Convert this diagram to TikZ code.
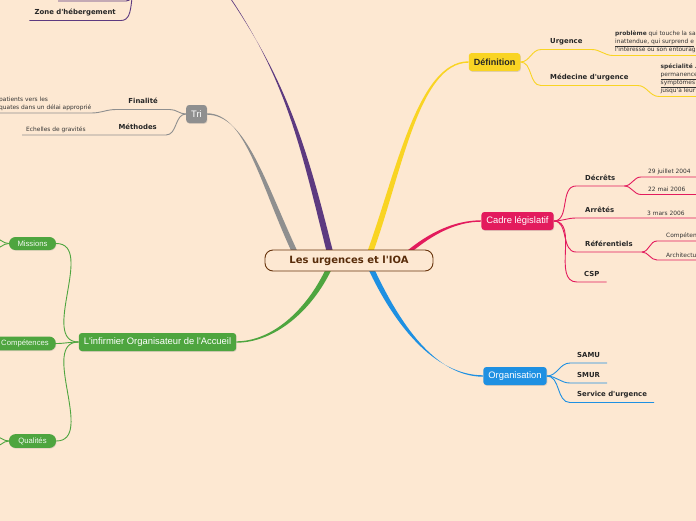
\documentclass[tikz,border=0pt]{standalone}
\usepackage{fontspec}
\setmainfont{DejaVu Sans}
\newfontfamily\topicfont{Liberation Sans}
\usetikzlibrary{calc,shadows,backgrounds}

\definecolor{bgpeach}{RGB}{253,232,210}
\definecolor{rootbrown}{RGB}{104,52,12}
\definecolor{mmpurple}{RGB}{93,58,128}
\definecolor{mmgray}{RGB}{143,143,143}
\definecolor{mmyellow}{RGB}{249,212,35}
\definecolor{mmpink}{RGB}{227,27,93}
\definecolor{mmblue}{RGB}{30,144,226}
\definecolor{mmgreen}{RGB}{78,165,63}

\newcommand{\apos}{\textquotesingle}

\tikzset{
    root/.style = {
        draw=rootbrown,
        line width=0.9pt,
        fill=bgpeach,
        rounded corners=8pt,
        minimum width=168pt,
        minimum height=21pt,
        text=rootbrown!85!black,
        font=\bfseries\fontsize{10}{12}\selectfont,
        },
    topic/.style = {
        rounded corners=3pt,
        minimum height=18pt,
        inner xsep=5pt,
        text=white,
        font=\topicfont\fontsize{9.4}{11}\selectfont,
        drop shadow={opacity=0.25, shadow xshift=0.6pt, shadow yshift=-0.8pt},
        },
    pill/.style = {
        fill=mmgreen,
        rounded corners=6.5pt,
        minimum height=13pt,
        minimum width=47pt,
        inner xsep=7pt,
        text=white!92!mmgreen,
        font=\topicfont\fontsize{7.7}{9}\selectfont,
        drop shadow={opacity=0.25, shadow xshift=0.5pt, shadow yshift=-0.7pt},
        },
    sub/.style = {
        font=\bfseries\fontsize{6.9}{8}\selectfont,
        text=black!85,
        inner xsep=9pt,
        inner ysep=4pt,
        text height=5pt,
        text depth=1.5pt,
        },
    leaf/.style = {
        font=\fontsize{5.9}{8}\selectfont,
        text=black!80,
        inner xsep=0pt,
        inner ysep=2.5pt,
        },
    twig/.style = {
        line width=0.9pt,
        },
}

% colour, from, to, out, in, out looseness, in looseness, half width
\newcommand{\branch}[8]{%
    \fill[#1] ($(#2)+(-#8,0)$) to[out=#4,in=#5,out looseness=#6,in looseness=#7] ($(#3)+(0,0.7)$)
        -- ($(#3)+(0,-0.7)$) to[out=#5,in=#4,out looseness=#7,in looseness=#6] ($(#2)+(#8,0)$) -- cycle;
}

\begin{document}
\begin{tikzpicture}[x=1pt,y=1pt]
    \useasboundingbox (0,0) rectangle (696,-520);
    \clip (0,0) rectangle (696,-520);

    % main topics
    \node[root] (root) at (349,-260.5) {Les urgences et l\apos IOA};
    \node[topic, fill=mmgray] (tri) at (196.5,-114) {Tri};
    \node[topic, fill=mmyellow, text=black!85, font=\topicfont\bfseries\fontsize{9}{11}\selectfont] (def) at (494.5,-62) {Définition};
    \node[topic, fill=mmpink] (cadre) at (517.5,-221) {Cadre législatif};
    \node[topic, fill=mmblue] (org) at (515,-376) {Organisation};
    \node[topic, fill=mmgreen] (ioa) at (157.5,-342) {L\apos infirmier Organisateur de l\apos Accueil};

    \node[pill] (missions) at (32.5,-243.5) {Missions};
    \node[pill] (competences) at (25,-343.5) {Compétences};
    \node[pill] (qualites) at (32.5,-441) {Qualités};

    % sub topics
    \node[sub, anchor=south west] (urgence) at (541,-49.5) {Urgence};
    \node[sub, anchor=south west] (medecine) at (541,-85.5) {Médecine d\apos urgence};
    \node[sub, anchor=south west] (decrets) at (576,-186) {Décrêts};
    \node[sub, anchor=south west] (arretes) at (576,-218) {Arrêtés};
    \node[sub, anchor=south west] (referentiels) at (576,-252) {Référentiels};
    \node[sub, anchor=south west, inner xsep=7pt] (csp) at (577,-282) {CSP};
    \node[sub, anchor=south west, inner xsep=7pt] (samu) at (570,-363) {SAMU};
    \node[sub, anchor=south west, inner xsep=7pt] (smur) at (570,-383) {SMUR};
    \node[sub, anchor=south west, inner xsep=7pt] (service) at (570,-402.5) {Service d\apos urgence};
    \node[sub, anchor=south east, inner xsep=12pt] (finalite) at (170,-109.5) {Finalité};
    \node[sub, anchor=south east] (methodes) at (166,-135) {Méthodes};
    \node[sub, anchor=south east, inner xsep=5pt] (hebergement) at (121,-20.5) {Zone d\apos hébergement};

    % leaves
    \node[leaf, anchor=south west, align=left, inner xsep=2pt] (urgtext) at (613,-55.5)
        {\textbf{problème} qui touche la sa\\\underline{inattendue, qui surprend e}\\l\apos intéressé ou son entourag};
    \node[leaf, anchor=south west, align=left, inner xsep=1.5pt] (medtext) at (659,-96.5)
        {\textbf{spécialité .}\\\underline{permanence}\\\underline{symptômes s}\\jusqu\apos à leur};
    \node[leaf, anchor=south west, inner xsep=7pt] (juillet) at (641,-177) {29 juillet 2004};
    \node[leaf, anchor=south west, inner xsep=7pt] (mai) at (641,-194.5) {22 mai 2006};
    \node[leaf, anchor=south west, inner xsep=6pt] (mars) at (641,-218) {3 mars 2006};
    \node[leaf, anchor=south west, inner xsep=9pt] (compet) at (657,-241) {Compéten};
    \node[leaf, anchor=south west, inner xsep=9pt] (archi) at (657,-260) {Architectu};
    \node[leaf, anchor=south west, align=left, inner xsep=0pt] (orienter) at (-1,-113)
        {patients vers les\\quates dans un délai approprié};
    \node[leaf, anchor=south west, inner xsep=4pt] (echelles) at (22,-135) {Echelles de gravités};

    % off-page ends
    \coordinate (E) at (705,0);
    \coordinate (W) at (-8,0);
    \coordinate (purpletop) at (222,14);
    \coordinate (zonetop) at (142,16);
    \coordinate (topline) at (126,-1);
    \coordinate (topleaf) at (58,-1);
    \coordinate (m1) at (-6,-238);
    \coordinate (m2) at (-6,-249);
    \coordinate (q1) at (-6,-436);
    \coordinate (q2) at (-6,-447);

    \begin{scope}[on background layer]
        \fill[bgpeach] (-10,10) rectangle (710,-530);
        \coordinate (s1) at ($(root.north)+(-19,-3)$);
        \coordinate (s2) at ($(root.north)+(-54,-3)$);
        \coordinate (s3) at ($(root.north)+(21,-3)$);
        \coordinate (s4) at ($(root.north)+(59,-3)$);
        \coordinate (s5) at ($(root.south)+(22,3)$);
        \coordinate (s6) at ($(root.south)+(-20,3)$);
        \branch{mmpurple}{s1}{purpletop}{104}{-55}{1}{1}{3.2}
        \branch{mmgray}{s2}{tri.east}{115}{0}{1.2}{0.6}{3}
        \branch{mmyellow}{s3}{def.west}{70}{180}{1}{0.6}{3}
        \branch{mmpink}{s4}{cadre.west}{40}{180}{1}{0.8}{3}
        \branch{mmblue}{s5}{org.west}{-65}{180}{1}{0.8}{3}
        \branch{mmgreen}{s6}{ioa.east}{-115}{0}{1}{0.8}{3}
    \end{scope}

    % purple twigs
    \draw[twig, mmpurple] (zonetop) to[out=180,in=0] (hebergement.south east) -- (hebergement.south west);
    \draw[twig, mmpurple] (zonetop) to[out=180,in=0] (topline) -- (topleaf);

    % gray twigs
    \draw[twig, mmgray] (tri.west) to[out=180,in=0] (finalite.south east) -- (finalite.south west)
        to[out=180,in=0] (orienter.south east) -- (orienter.south east -| W);
    \draw[twig, mmgray] (tri.west) to[out=180,in=0] (methodes.south east) -- (methodes.south west) -- (echelles.south west);

    % yellow twigs
    \draw[twig, mmyellow] (def.east) to[out=0,in=180] (urgence.south west) -- (urgence.south east)
        to[out=0,in=180] (urgtext.south west) -- (urgtext.south west -| E);
    \draw[twig, mmyellow] (def.east) to[out=0,in=180] (medecine.south west) -- (medecine.south east)
        to[out=0,in=180] (medtext.south west) -- (medtext.south west -| E);

    % pink twigs
    \draw[twig, mmpink] (cadre.east) to[out=0,in=180] (decrets.south west) -- (decrets.south east)
        to[out=0,in=180] (juillet.south west) -- (juillet.south west -| E);
    \draw[twig, mmpink] (decrets.south east) to[out=0,in=180] (mai.south west) -- (mai.south west -| E);
    \draw[twig, mmpink] (cadre.east) to[out=0,in=180] (arretes.south west) -- (mars.south west) -- (mars.south west -| E);
    \draw[twig, mmpink] (cadre.east) to[out=0,in=180] (referentiels.south west) -- (referentiels.south east)
        to[out=0,in=180] (compet.south west) -- (compet.south west -| E);
    \draw[twig, mmpink] (referentiels.south east) to[out=0,in=180] (archi.south west) -- (archi.south west -| E);
    \draw[twig, mmpink] (cadre.east) to[out=0,in=180] (csp.south west) -- (csp.south east);

    % blue twigs
    \draw[twig, mmblue] (org.east) to[out=0,in=180] (samu.south west) -- (samu.south east);
    \draw[twig, mmblue] (org.east) to[out=0,in=180] (smur.south west) -- (smur.south east);
    \draw[twig, mmblue] (org.east) to[out=0,in=180] (service.south west) -- (service.south east);

    % green twigs
    \draw[twig, mmgreen] (ioa.west) to[out=180,in=0] (missions.east);
    \draw[twig, mmgreen] (ioa.west) to[out=180,in=0] (competences.east);
    \draw[twig, mmgreen] (ioa.west) to[out=180,in=0] (qualites.east);
    \draw[twig, mmgreen] (missions.west) to[out=180,in=0] (m1);
    \draw[twig, mmgreen] (missions.west) to[out=180,in=0] (m2);
    \draw[twig, mmgreen] (qualites.west) to[out=180,in=0] (q1);
    \draw[twig, mmgreen] (qualites.west) to[out=180,in=0] (q2);
\end{tikzpicture}
\end{document}
